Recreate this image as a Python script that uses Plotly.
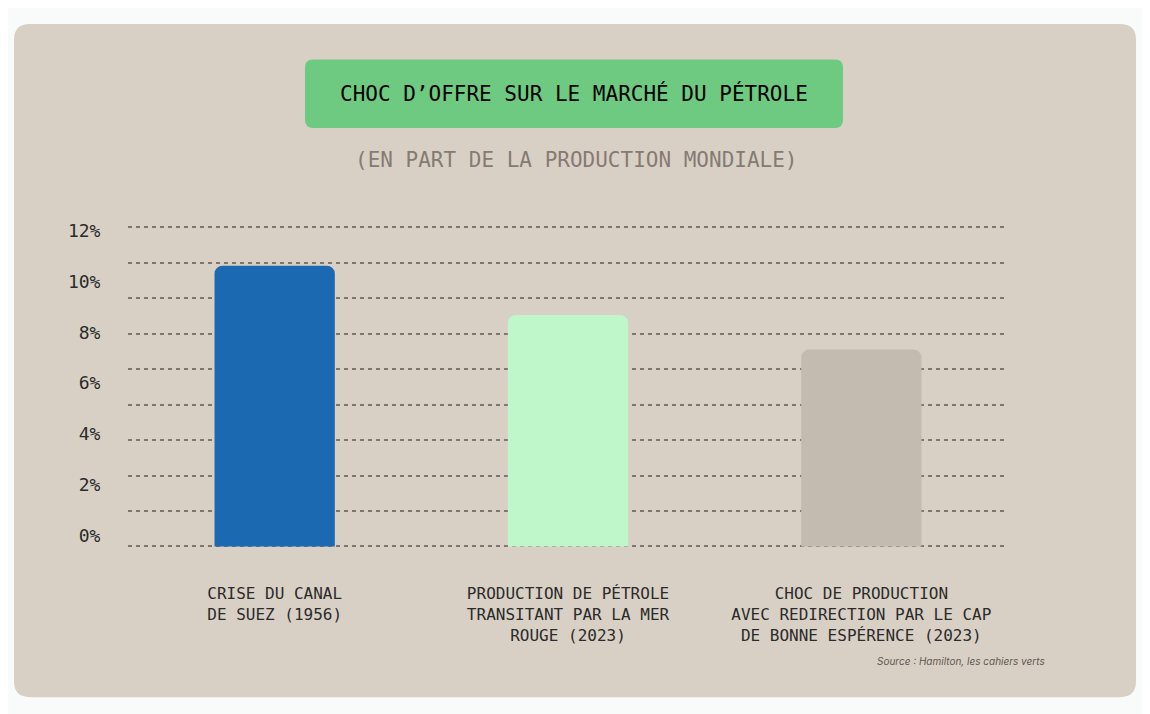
import plotly.graph_objects as go

# data
categories = [
    "CRISE DU CANAL<br>DE SUEZ (1956)",
    "PRODUCTION DE PÉTROLE<br>TRANSITANT PAR LA MER<br>ROUGE (2023)",
    "CHOC DE PRODUCTION<br>AVEC REDIRECTION PAR LE CAP<br>DE BONNE ESPÉRENCE (2023)",
]
shares = [10.55, 8.7, 7.4]
bar_colors = ["#1b69b1", "#c0f7ca", "#c4bbb0"]
tick_vals = [0, 2, 4, 6, 8, 10, 12]
tick_text = ["0%", "2%", "4%", "6%", "8%", "10%", "12%"]

title = "CHOC D’OFFRE SUR LE MARCHÉ DU PÉTROLE"
subtitle = "(EN PART DE LA PRODUCTION MONDIALE)"
source = "Source : Hamilton, les cahiers verts"

W, H = 1150, 714
OFF = 8  # page body margin
MONO = "DejaVu Sans Mono"


def px_x(v):
    return (v - OFF) / W


def px_y(v):
    return 1 - (v - OFF) / H


def rounded_rect(x0, y0, x1, y1, r):
    # screen pixel coords -> paper path with rounded corners
    rx, ry = r / W, r / H
    a, b, c, d = px_x(x0), px_y(y1), px_x(x1), px_y(y0)
    return (
        f"M{a + rx},{b} L{c - rx},{b} Q{c},{b} {c},{b + ry} "
        f"L{c},{d - ry} Q{c},{d} {c - rx},{d} L{a + rx},{d} "
        f"Q{a},{d} {a},{d - ry} L{a},{b + ry} Q{a},{b} {a + rx},{b} Z"
    )


fig = go.Figure()
fig.add_trace(go.Bar(
    x=categories, y=shares, marker=dict(color=bar_colors, line=dict(width=0)),
    hoverinfo="skip",
))
# invisible companion trace so the label axis is drawn
fig.add_trace(go.Scatter(
    x=categories, y=shares, yaxis="y2", mode="markers",
    marker=dict(opacity=0), hoverinfo="skip", showlegend=False,
))

# grid runs 545px (0) .. 223px (12); pad the range so edge lines show
g_top, g_bot = 223, 545
ppu = (g_bot - g_top) / 12
pad = 0.06
d_top, d_bot = g_top - pad * ppu, g_bot + pad * ppu
# labels: 0% sits at 534px, 12% at 226.5px
l0, l12 = 534, 226.5
lpu = (l0 - l12) / 12
r0 = -(d_bot - l0) / lpu
r1 = 12 + (l12 - d_top) / lpu

fig.update_layout(
    width=W, height=H,
    margin=dict(l=0, r=0, t=0, b=0),
    paper_bgcolor="#f9fafa",
    plot_bgcolor="rgba(0,0,0,0)",
    showlegend=False,
    bargap=0.59,
    barcornerradius=8,
    xaxis=dict(
        domain=[px_x(128), px_x(1008)],
        showgrid=False, zeroline=False, showline=False,
        tickfont=dict(family=MONO, size=16, color="#2b2b2b"),
        ticks="outside", ticklen=31, tickcolor="rgba(0,0,0,0)",
    ),
    yaxis=dict(
        domain=[px_y(d_bot), px_y(d_top)],
        range=[-pad, 12 + pad], dtick=12 / 9, tick0=0,
        showticklabels=False, zeroline=False, showline=False,
        showgrid=True, gridcolor="#7f776f", gridwidth=2, griddash="4px,4px",
    ),
    yaxis2=dict(
        overlaying="y", side="left",
        range=[r0, r1],
        tickvals=tick_vals, ticktext=tick_text,
        showgrid=False, zeroline=False, showline=False,
        tickfont=dict(family=MONO, size=18, color="#2b2b2b"),
        ticks="outside", ticklen=23, tickcolor="rgba(0,0,0,0)",
    ),
    shapes=[
        dict(type="path", xref="paper", yref="paper", layer="below",
             path=rounded_rect(14, 18, 1136, 697, 16),
             fillcolor="#d9d0c5", line=dict(width=0)),
        dict(type="path", xref="paper", yref="paper", layer="below",
             path=rounded_rect(305, 54, 843, 123, 8),
             fillcolor="#6fca81", line=dict(width=0)),
    ],
    annotations=[
        dict(text=title, x=px_x(574), y=px_y(88), xref="paper", yref="paper",
             showarrow=False, xanchor="center", yanchor="middle",
             font=dict(family=MONO, size=21, color="#000000")),
        dict(text=subtitle, x=px_x(576), y=px_y(155), xref="paper", yref="paper",
             showarrow=False, xanchor="center", yanchor="middle",
             font=dict(family=MONO, size=21, color="#857b72")),
        dict(text=f"<i>{source}</i>", x=px_x(1047), y=px_y(660), xref="paper", yref="paper",
             showarrow=False, xanchor="right", yanchor="middle",
             font=dict(family="Inter", size=10, color="#5f5852")),
    ],
)

fig.write_html("out.html")
